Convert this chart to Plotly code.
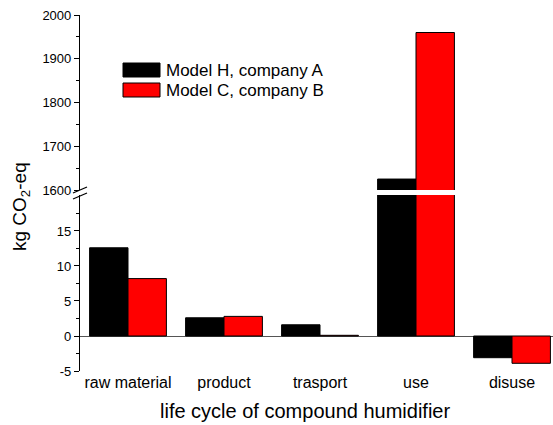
import plotly.graph_objects as go

categories = ["raw material", "product", "trasport", "use", "disuse"]
model_h = [12.6, 2.6, 1.6, 1625, -3.1]
model_c = [8.2, 2.8, 0.1, 1960, -3.9]
series_names = ["Model H, company A", "Model C, company B"]
series_colors = ["#000000", "#FF0000"]
lower_ticks = [-5, 0, 5, 10, 15]
lower_labels = ["-5", "0", "5", "10", "15"]
lower_minor = [-2.5, 2.5, 7.5, 12.5, 17.5]
upper_ticks = [1600, 1700, 1800, 1900, 2000]
upper_labels = ["1600", "1700", "1800", "1900", "2000"]
upper_minor = [1650, 1750, 1850, 1950]

W, H = 553, 425
ML, MR, MT, MB = 80, 0, 15, 54
PW, PH = W - ML - MR, H - MT - MB

def px_x(p):
    return (p - ML) / PW

def px_y(p):
    return (H - MB - p) / PH

FONT = "Arial, Liberation Sans, sans-serif"

fig = go.Figure()
for vals, name, col in zip([model_h, model_c], series_names, series_colors):
    for yax in ["y", "y2"]:
        fig.add_trace(go.Bar(
            x=categories, y=vals, name=name, yaxis=yax, xaxis="x",
            marker=dict(color=col, line=dict(color="#000000", width=1)),
            offsetgroup=name, showlegend=False,
        ))

axis_common = dict(
    showline=True, linecolor="#000000", linewidth=1.2,
    ticks="outside", ticklen=5, tickwidth=1.2, tickcolor="#000000",
    showgrid=False, tickfont=dict(family=FONT, size=13, color="#000000"),
)

fig.update_layout(
    width=W, height=H,
    margin=dict(l=ML, r=MR, t=MT, b=MB),
    paper_bgcolor="white", plot_bgcolor="white",
    barmode="group", bargap=0.2, bargroupgap=0,
    showlegend=False,
    xaxis=dict(
        anchor="y", range=[-0.5, 4.427], showline=False, ticks="",
        showgrid=False, zeroline=False,
        tickfont=dict(family=FONT, size=16, color="#000000"),
    ),
    yaxis=dict(
        domain=[0, px_y(195)], range=[-5, 20.14],
        tickmode="array", tickvals=lower_ticks, ticktext=lower_labels,
        minor=dict(tickmode="array", tickvals=lower_minor, ticks="outside",
                   ticklen=3, tickcolor="#000000", tickwidth=1.2),
        zeroline=True, zerolinecolor="#555555", zerolinewidth=1,
        **axis_common,
    ),
    yaxis2=dict(
        domain=[px_y(190), 1], range=[1600, 2000], anchor="x",
        tickmode="array", tickvals=upper_ticks, ticktext=upper_labels,
        minor=dict(tickmode="array", tickvals=upper_minor, ticks="outside",
                   ticklen=3, tickcolor="#000000", tickwidth=1.2),
        zeroline=False,
        **axis_common,
    ),
)

shapes = []
# axis break marks
for dy in (0, 6):
    shapes.append(dict(type="line", xref="paper", yref="paper",
                       x0=px_x(73), y0=px_y(193 + dy), x1=px_x(87), y1=px_y(187 + dy),
                       line=dict(color="#000000", width=1.3)))
# legend boxes
legend_rows = [70, 90]
for row, col in zip(legend_rows, series_colors):
    shapes.append(dict(type="rect", xref="paper", yref="paper",
                       x0=px_x(123), x1=px_x(160), y0=px_y(row - 7), y1=px_y(row + 7),
                       fillcolor=col, line=dict(color="#000000", width=1)))
fig.update_layout(shapes=shapes)

annotations = []
for row, name in zip(legend_rows, series_names):
    annotations.append(dict(text=name, xref="paper", yref="paper",
                            x=px_x(164), y=px_y(row), xanchor="left", yanchor="middle",
                            showarrow=False, font=dict(family=FONT, size=17, color="#000000")))
annotations.append(dict(text="life cycle of compound humidifier", xref="paper", yref="paper",
                        x=px_x(305), y=px_y(411), xanchor="center", yanchor="middle",
                        showarrow=False, font=dict(family=FONT, size=20, color="#000000")))
annotations.append(dict(text="kg CO<sub>2</sub>-eq", xref="paper", yref="paper",
                        x=px_x(21), y=px_y(207), xanchor="center", yanchor="middle",
                        textangle=-90, showarrow=False,
                        font=dict(family=FONT, size=19, color="#000000")))
fig.update_layout(annotations=annotations)

fig.write_html("out.html", config={"displayModeBar": False},
               post_script="document.body.style.margin='0';document.body.style.padding='0';document.body.style.overflow='hidden';")
